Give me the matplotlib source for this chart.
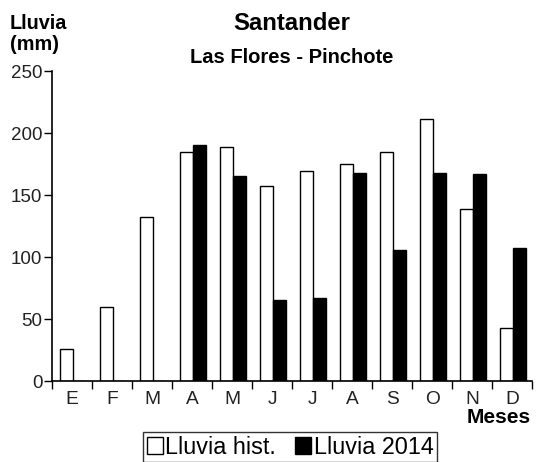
import matplotlib
matplotlib.use("Agg")
import matplotlib.pyplot as plt
import numpy as np

plt.rcParams["font.family"] = ["Liberation Sans", "DejaVu Sans"]

# datos
meses = ["E", "F", "M", "A", "M", "J", "J", "A", "S", "O", "N", "D"]
lluvia_hist = [26, 60, 132, 185, 189, 157, 169, 175, 185, 211, 139, 43]
lluvia_2014 = [0, 0, 0, 190, 165, 65, 67, 168, 106, 168, 167, 107]

fig = plt.figure(figsize=(5.36, 4.62), dpi=100)
ax = fig.add_axes([52 / 536, 1 - 381 / 462, 480 / 536, 310 / 462])

x = np.arange(len(meses))
w = 0.32
ax.bar(x - 0.13, lluvia_hist, w, color="white", edgecolor="black",
       linewidth=1.0, label="Lluvia hist.")
ax.bar(x + 0.19, lluvia_2014, w, color="black", edgecolor="black",
       linewidth=1.0, label="Lluvia 2014")

ax.set_xlim(-0.5, len(meses) - 0.5)
ax.set_ylim(0, 250)
ax.set_yticks([0, 50, 100, 150, 200, 250])

# ticks en los limites de cada mes, etiquetas al centro
ax.set_xticks(np.arange(len(meses) + 1) - 0.5)
ax.set_xticklabels([])
ax.set_xticks(x, minor=True)
ax.set_xticklabels(meses, minor=True)
ax.tick_params(axis="x", which="major", length=6, width=1, direction="out")
ax.tick_params(axis="x", which="minor", length=0, pad=7, labelsize=13.8,
               labelcolor="#222222")
ax.tick_params(axis="y", length=6, width=1, direction="out", pad=1,
               labelsize=13.5, labelcolor="#222222")

for s in ["top", "right"]:
    ax.spines[s].set_visible(False)
for s in ["left", "bottom"]:
    ax.spines[s].set_linewidth(1.2)

fig.text(10 / 536, 1 - 14 / 462, "Lluvia\n(mm)", fontsize=14.3,
         fontweight="bold", ha="left", va="top", linespacing=1.15)
fig.text(292 / 536, 1 - 30 / 462, "Santander", fontsize=17.2,
         fontweight="bold", ha="center", va="baseline")
fig.text(292 / 536, 1 - 63 / 462, "Las Flores - Pinchote", fontsize=14.5,
         fontweight="bold", ha="center", va="baseline")
fig.text(531 / 536, 1 - 423 / 462, "Meses", fontsize=15,
         fontweight="bold", ha="right", va="baseline")

leg = fig.legend(loc="center", bbox_to_anchor=(290 / 536, 1 - 447 / 462),
                 ncol=2, fontsize=16.8, frameon=True, fancybox=False,
                 handlelength=0.7, handleheight=0.7, handletextpad=0.1,
                 columnspacing=0.8, borderpad=0.15, borderaxespad=0)
leg.get_frame().set_edgecolor("black")
leg.get_frame().set_linewidth(1.0)

fig.savefig("out.png", dpi=100)
